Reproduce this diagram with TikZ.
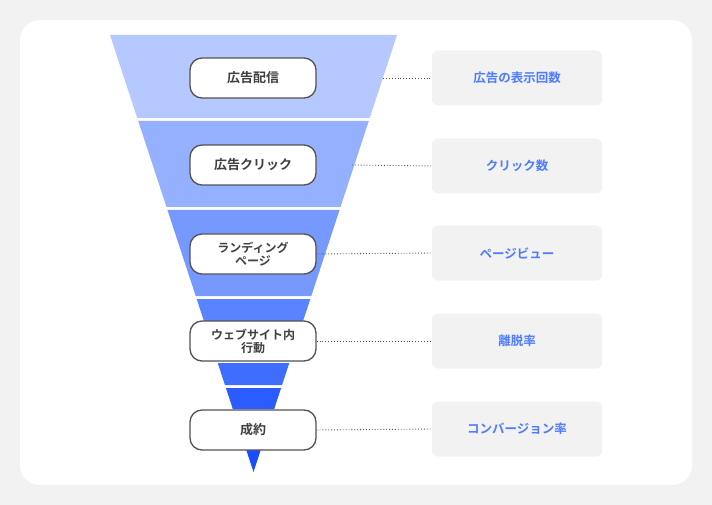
\documentclass[tikz,border=0pt]{standalone}
\usepackage{fontspec}
\setmainfont{Noto Sans CJK JP}[BoldFont={Noto Sans CJK JP Bold}]
\begin{document}
\begin{tikzpicture}[x=1pt,y=-1pt,
  pill/.style={draw=black!68,line width=1.3pt,fill=white,rounded corners=12pt,minimum width=126pt,minimum height=40pt,font=\bfseries\fontsize{13}{14}\selectfont,text=black!75,align=center,inner sep=1pt},
  lab/.style={fill=black!5,rounded corners=6pt,minimum width=170pt,minimum height=55pt,font=\bfseries\fontsize{12.5}{14}\selectfont,text=blueL},
  dot/.style={dotted,line width=0.9pt,black!70}]
\definecolor{blueL}{HTML}{4F7BFF}
\useasboundingbox (0,0) rectangle (712,505);
\fill[black!5] (0,0) rectangle (712,505);
\fill[white,rounded corners=20pt] (20,20) rectangle (692,485);
\def\hw#1{((472-#1)*0.328375)}
\def\seg#1#2#3{\fill[#3] ({253.5-\hw{#1}},#1) -- ({253.5+\hw{#1}},#1) -- ({253.5+\hw{#2}},#2) -- ({253.5-\hw{#2}},#2) -- cycle;}
\definecolor{c1}{HTML}{B5C8FF}\definecolor{c2}{HTML}{95B0FF}
\definecolor{c3}{HTML}{7599FF}\definecolor{c4}{HTML}{5A84FF}
\definecolor{c5}{HTML}{3F6EFF}\definecolor{c6}{HTML}{2A5CFF}\definecolor{c7}{HTML}{1A4CFF}
\seg{35}{118}{c1}\seg{121}{207}{c2}\seg{210}{296}{c3}\seg{299}{360}{c4}
\seg{363}{385}{c5}\seg{388}{409}{c6}
\fill[c7] ({253.5-\hw{412}},412) -- ({253.5+\hw{412}},412) -- (253.5,472) -- cycle;
\node[pill] (p1) at (253,78) {広告配信};
\node[pill] (p2) at (253,165) {広告クリック};
\node[pill,font=\bfseries\fontsize{12}{13}\selectfont] (p3) at (253,254) {ランディング\\ページ};
\node[pill,font=\bfseries\fontsize{12}{13}\selectfont] (p4) at (253,341) {ウェブサイト内\\行動};
\node[pill] (p5) at (253,430) {成約};
\node[lab] (l1) at (517,78) {広告の表示回数};
\node[lab] (l2) at (517,166) {クリック数};
\node[lab] (l3) at (517,253) {ページビュー};
\node[lab] (l4) at (517,341) {離脱率};
\node[lab] (l5) at (517,429) {コンバージョン率};
\coordinate (e1) at (383,78);
\coordinate (e2) at (352,165);
\draw[dot] (e1) -- (l1.west);
\draw[dot] (e2) -- (l2.west);
\draw[dot] (p3.east) -- (l3.west);
\draw[dot] (p4.east) -- (l4.west);
\draw[dot] (p5.east) -- (l5.west);
\end{tikzpicture}
\end{document}
